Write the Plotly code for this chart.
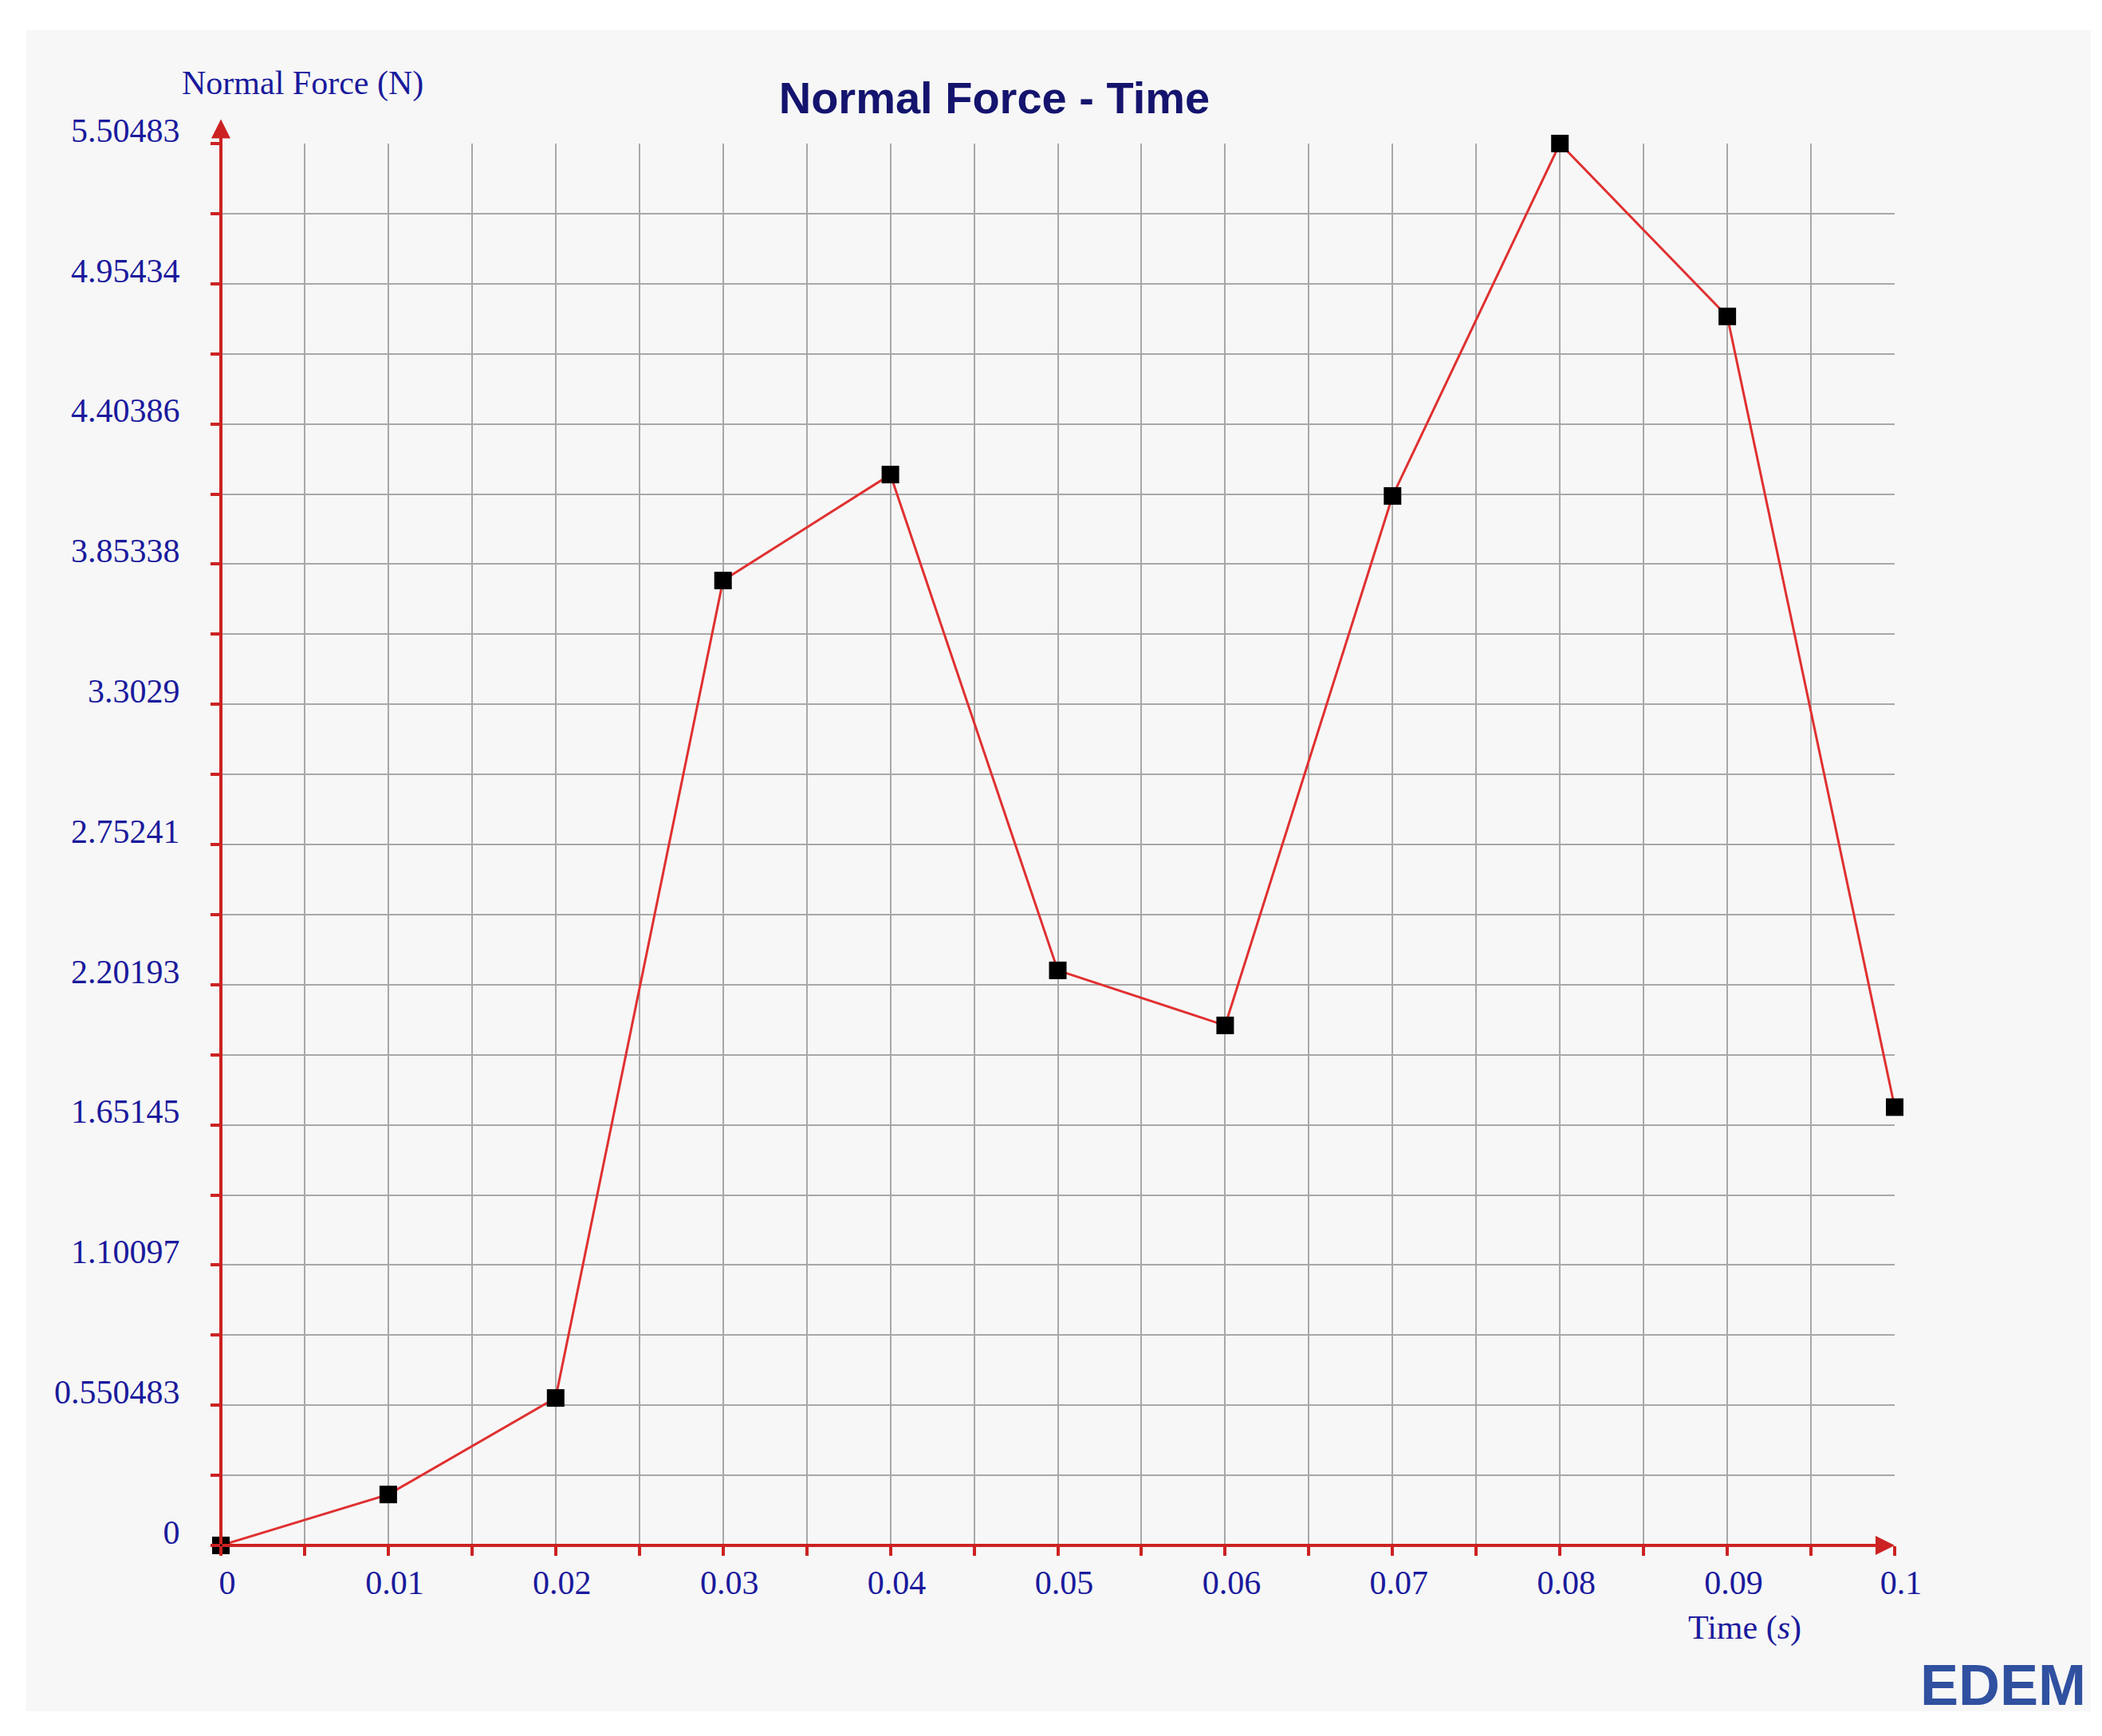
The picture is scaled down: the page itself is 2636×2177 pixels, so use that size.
import plotly.graph_objects as go

time_s = [0, 0.01, 0.02, 0.03, 0.04, 0.05, 0.06, 0.07, 0.08, 0.09, 0.1]
normal_force = [0, 0.2, 0.579, 3.789, 4.205, 2.258, 2.042, 4.121, 5.50483, 4.826, 1.721]
y_tick_vals = [0, 0.550483, 1.10097, 1.65145, 2.20193, 2.75241, 3.3029, 3.85338, 4.40386, 4.95434, 5.50483]
y_tick_text = ["0", "0.550483", "1.10097", "1.65145", "2.20193", "2.75241", "3.3029", "3.85338", "4.40386", "4.95434", "5.50483"]
x_tick_vals = [0, 0.01, 0.02, 0.03, 0.04, 0.05, 0.06, 0.07, 0.08, 0.09, 0.1]
x_tick_text = ["0", "0.01", "0.02", "0.03", "0.04", "0.05", "0.06", "0.07", "0.08", "0.09", "0.1"]

W, H = 2636, 2177
red = "#cc2222"
blue = "#1a1a9c"
serif = "Liberation Serif"
L, R, T, B = 269, 268, 172, 247
pw, ph = W - L - R, H - T - B

fig = go.Figure()
fig.add_trace(go.Scatter(x=time_s, y=normal_force, mode="lines+markers",
                         line=dict(color="#e03030", width=3),
                         marker=dict(symbol="square", size=22, color="black"),
                         cliponaxis=False, showlegend=False))

ystep = y_tick_vals[1] / 2
fig.update_layout(
    width=W, height=H,
    paper_bgcolor="white", plot_bgcolor="#f7f7f7",
    margin=dict(l=L, r=R, t=T, b=B),
    title=dict(text="<b>Normal Force - Time</b>", x=0.47, xanchor="center", y=1 - 114 / H, yanchor="middle",
               font=dict(family="Liberation Sans", size=56, color="#14146e")),
    xaxis=dict(range=[0, 0.1], tickvals=x_tick_vals, ticktext=x_tick_text,
               showgrid=True, gridcolor="#a8a8a8", gridwidth=2,
               ticks="outside", ticklen=12, tickwidth=4, tickcolor=red,
               minor=dict(dtick=0.005, tick0=0, showgrid=True, gridcolor="#a8a8a8", gridwidth=2,
                          ticks="outside", ticklen=12, tickwidth=4, tickcolor=red),
               tickfont=dict(family=serif, size=42, color=blue),
               zeroline=False, showline=False, ticklabelshift=8, ticklabelstandoff=-2),
    yaxis=dict(range=[0, 5.50483], tickvals=y_tick_vals, ticktext=y_tick_text,
               showgrid=True, gridcolor="#a8a8a8", gridwidth=2,
               ticks="outside", ticklen=12, tickwidth=4, tickcolor=red,
               minor=dict(dtick=ystep, tick0=0, showgrid=True, gridcolor="#a8a8a8", gridwidth=2,
                          ticks="outside", ticklen=12, tickwidth=4, tickcolor=red),
               tickfont=dict(family=serif, size=42, color=blue),
               zeroline=False, showline=False, ticklabelshift=-17, ticklabelstandoff=30),
)
# gray panel background
fig.add_shape(type="rect", xref="paper", yref="paper", layer="below",
              x0=(25 - L) / pw, x1=(2614 - L) / pw, y0=-(2138 - (H - B)) / ph, y1=1 + (T - 30) / ph,
              fillcolor="#f7f7f7", line=dict(width=0))
# axes with arrows
fig.add_annotation(x=0, y=5.6, ax=0, ay=0, xref="x", yref="y", axref="x", ayref="y",
                   showarrow=True, arrowhead=2, arrowsize=1.2, arrowwidth=4, arrowcolor=red, text="")
fig.add_annotation(x=0.1, y=0, ax=0, ay=0, xref="x", yref="y", axref="x", ayref="y",
                   showarrow=True, arrowhead=2, arrowsize=1.2, arrowwidth=4, arrowcolor=red, text="")
fig.add_annotation(text="Normal Force (N)", xref="paper", yref="paper", x=(218 - L) / pw, y=1 + (T - 97) / ph,
                   xanchor="left", yanchor="middle", showarrow=False, font=dict(family=serif, size=42, color=blue))
fig.add_annotation(text="Time (<i>s</i>)", xref="paper", yref="paper", x=(2180 - L) / pw, y=-(2034 - (H - B)) / ph,
                   xanchor="center", yanchor="middle", showarrow=False, font=dict(family=serif, size=42, color=blue))
fig.add_annotation(text="<b>EDEM</b>", xref="paper", yref="paper", x=(2610 - L) / pw, y=-(2105 - (H - B)) / ph,
                   xanchor="right", yanchor="middle", showarrow=False,
                   font=dict(family="Liberation Sans", size=72, color="#3050a0"))
fig.write_html("out.html")
